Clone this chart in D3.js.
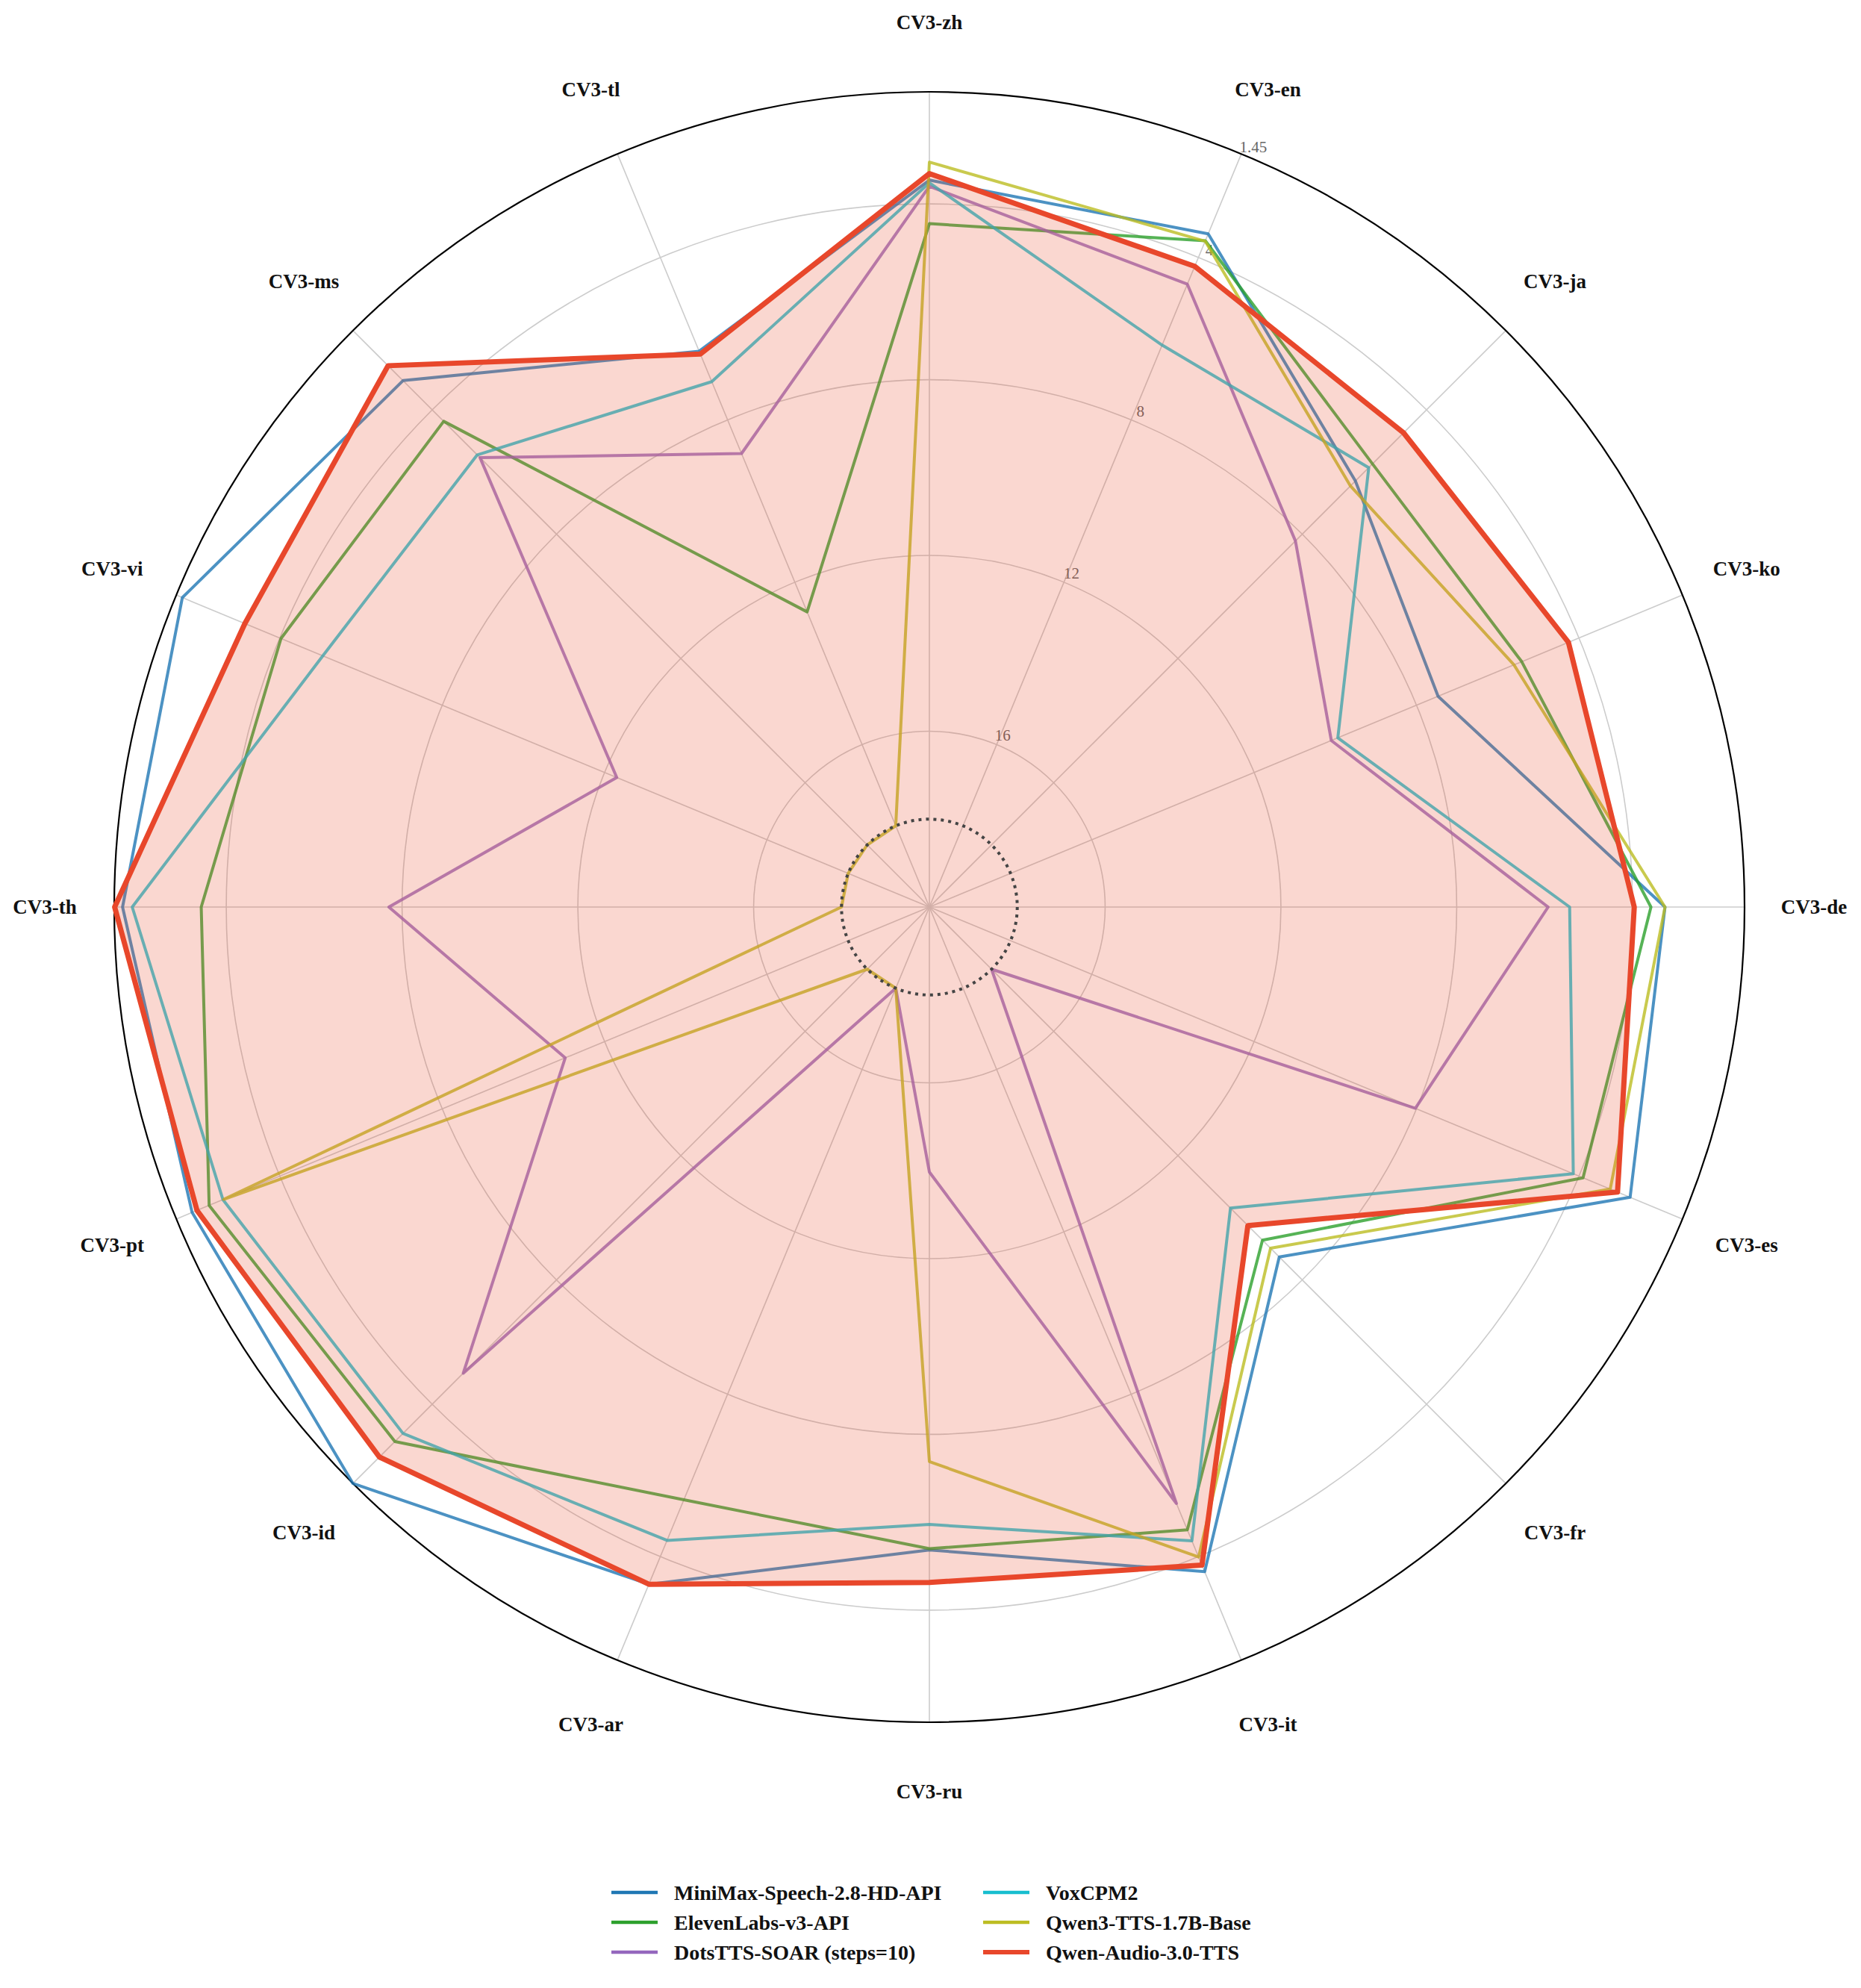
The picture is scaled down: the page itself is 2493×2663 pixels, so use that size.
<!DOCTYPE html>
<html>
<head>
<meta charset="utf-8">
<script src="https://cdn.jsdelivr.net/npm/d3@7"></script>
<style>
    body { margin: 0; background: #fff; }
    svg text { font-family: "Liberation Serif", "DejaVu Serif", serif; }
</style>
</head>
<body>
<div id="chart"></div>
<script>
// Axes, clockwise from the top
const languages = ['CV3-zh', 'CV3-en', 'CV3-ja', 'CV3-ko', 'CV3-de', 'CV3-es', 'CV3-fr', 'CV3-it',
    'CV3-ru', 'CV3-ar', 'CV3-id', 'CV3-pt', 'CV3-th', 'CV3-vi', 'CV3-ms', 'CV3-tl'];

// WER per language (lower is better, drawn further out)
const minimax    = [3.46, 3.42, 6.29, 7.47, 3.26, 2.74, 8.74, 3.63, 5.37, 3.32, 1.45, 1.84, 1.64, 1.60, 3.06, 6.31];
const elevenlabs = [4.45, 3.59, 5.74, 5.41, 3.58, 3.90, 9.28, 4.66, 5.40, 5.40, 2.80, 2.26, 3.43, 4.03, 4.37, 12.73];
const dotstts    = [3.60, 4.66, 8.22, 10.10, 5.92, 8.03, 18.0, 5.31, 13.97, 18.0, 5.00, 11.03, 7.70, 12.30, 5.54, 8.83];
const voxcpm2    = [3.52, 6.16, 5.86, 9.94, 5.43, 4.14, 10.31, 4.39, 5.95, 4.40, 3.06, 2.60, 1.86, 5.06, 5.45, 7.06];
const qwen3tts   = [3.05, 3.60, 6.45, 5.60, 3.26, 3.23, 9.02, 3.99, 7.38, 18.0, 18.0, 2.62, 18.0, 18.0, 18.0, 18.0];
const qwenaudio  = [3.31, 4.22, 4.74, 4.26, 3.96, 3.05, 9.75, 3.79, 4.63, 3.32, 2.30, 1.96, 1.46, 3.14, 2.58, 6.38];

const radialTicks = [16, 12, 8, 4];
const outerValue = 1.45;
const innerValue = 20;
const floorValue = 18;

const series = [
    {name: 'MiniMax-Speech-2.8-HD-API', values: minimax, color: '#1f77b4'},
    {name: 'ElevenLabs-v3-API', values: elevenlabs, color: '#2ca02c'},
    {name: 'DotsTTS-SOAR (steps=10)', values: dotstts, color: '#9467bd'},
    {name: 'VoxCPM2', values: voxcpm2, color: '#17becf'},
    {name: 'Qwen3-TTS-1.7B-Base', values: qwen3tts, color: '#bcbd22'},
    {name: 'Qwen-Audio-3.0-TTS', values: qwenaudio, color: '#e8472b', highlight: true}
];

const width = 2493;
const height = 2663;
const cx = 1245;
const cy = 1215;
const R = 1092;

const step = 2 * Math.PI / languages.length;

// Inverted radial scale: small WER at the rim
const r = d3.scaleLinear()
    .domain([innerValue, outerValue])
    .range([0, R])
    .clamp(true);

const svg = d3.select('#chart').append('svg')
    .attr('width', width)
    .attr('height', height)
    .attr('viewBox', [0, 0, width, height]);

const g = svg.append('g').attr('transform', `translate(${cx},${cy})`);

// Grid circles
g.append('g')
    .selectAll('circle')
    .data(radialTicks)
    .join('circle')
    .attr('r', d => r(d))
    .attr('fill', 'none')
    .attr('stroke', '#cccccc')
    .attr('stroke-width', 1.6);

// Spokes
g.append('g')
    .selectAll('line')
    .data(languages)
    .join('line')
    .attr('x1', 0)
    .attr('y1', 0)
    .attr('x2', (d, i) => R * Math.sin(i * step))
    .attr('y2', (d, i) => -R * Math.cos(i * step))
    .attr('stroke', '#cccccc')
    .attr('stroke-width', 1.6);

// Radial tick labels along the en spoke
const labelAngle = step + 0.01;
g.append('g')
    .selectAll('text')
    .data(radialTicks.concat([outerValue]))
    .join('text')
    .attr('x', d => (r(d) + 15) * Math.sin(labelAngle))
    .attr('y', d => -(r(d) + 15) * Math.cos(labelAngle))
    .attr('text-anchor', 'middle')
    .attr('dominant-baseline', 'central')
    .attr('font-size', 21)
    .attr('fill', '#666666')
    .text(d => d);

// Outer frame
g.append('circle')
    .attr('r', R)
    .attr('fill', 'none')
    .attr('stroke', '#000')
    .attr('stroke-width', 2.2);

// Axis labels
g.append('g')
    .selectAll('text')
    .data(languages)
    .join('text')
    .attr('x', (d, i) => 1185 * Math.sin(i * step))
    .attr('y', (d, i) => -1185 * Math.cos(i * step))
    .attr('text-anchor', 'middle')
    .attr('dominant-baseline', 'central')
    .attr('font-size', 27)
    .attr('font-weight', 'bold')
    .attr('fill', '#111')
    .text(d => d);

const radarLine = d3.lineRadial()
    .angle((d, i) => i * step)
    .radius(d => r(Math.min(d, floorValue)))
    .curve(d3.curveLinearClosed);

// Other models
g.append('g')
    .selectAll('path')
    .data(series.filter(s => !s.highlight))
    .join('path')
    .attr('d', d => radarLine(d.values))
    .attr('fill', 'none')
    .attr('stroke', d => d.color)
    .attr('stroke-opacity', 0.8)
    .attr('stroke-width', 4)
    .attr('stroke-linejoin', 'round');

// Highlighted model: fill on top, then outline
const main = series.find(s => s.highlight);
g.append('path')
    .attr('d', radarLine(main.values))
    .attr('fill', main.color)
    .attr('fill-opacity', 0.22)
    .attr('stroke', 'none');

g.append('path')
    .attr('d', radarLine(main.values))
    .attr('fill', 'none')
    .attr('stroke', main.color)
    .attr('stroke-width', 7)
    .attr('stroke-linejoin', 'round');

// Floor circle
g.append('circle')
    .attr('r', r(floorValue))
    .attr('fill', 'none')
    .attr('stroke', '#444')
    .attr('stroke-width', 4)
    .attr('stroke-dasharray', '4 6');

// Legend: two columns, three rows
const legend = svg.append('g');
const colX = [819, 1317];
const rowY = [2535, 2575, 2615];

series.forEach((s, idx) => {
    const col = Math.floor(idx / 3);
    const row = idx % 3;
    const item = legend.append('g')
        .attr('transform', `translate(${colX[col]},${rowY[row]})`);

    item.append('line')
        .attr('x1', 0)
        .attr('x2', 62)
        .attr('stroke', s.color)
        .attr('stroke-width', s.highlight ? 6 : 4.5);

    item.append('text')
        .attr('x', 84)
        .attr('dy', '0.35em')
        .attr('font-size', 28)
        .attr('font-weight', 'bold')
        .attr('fill', '#111')
        .text(s.name);
});
</script>
</body>
</html>
